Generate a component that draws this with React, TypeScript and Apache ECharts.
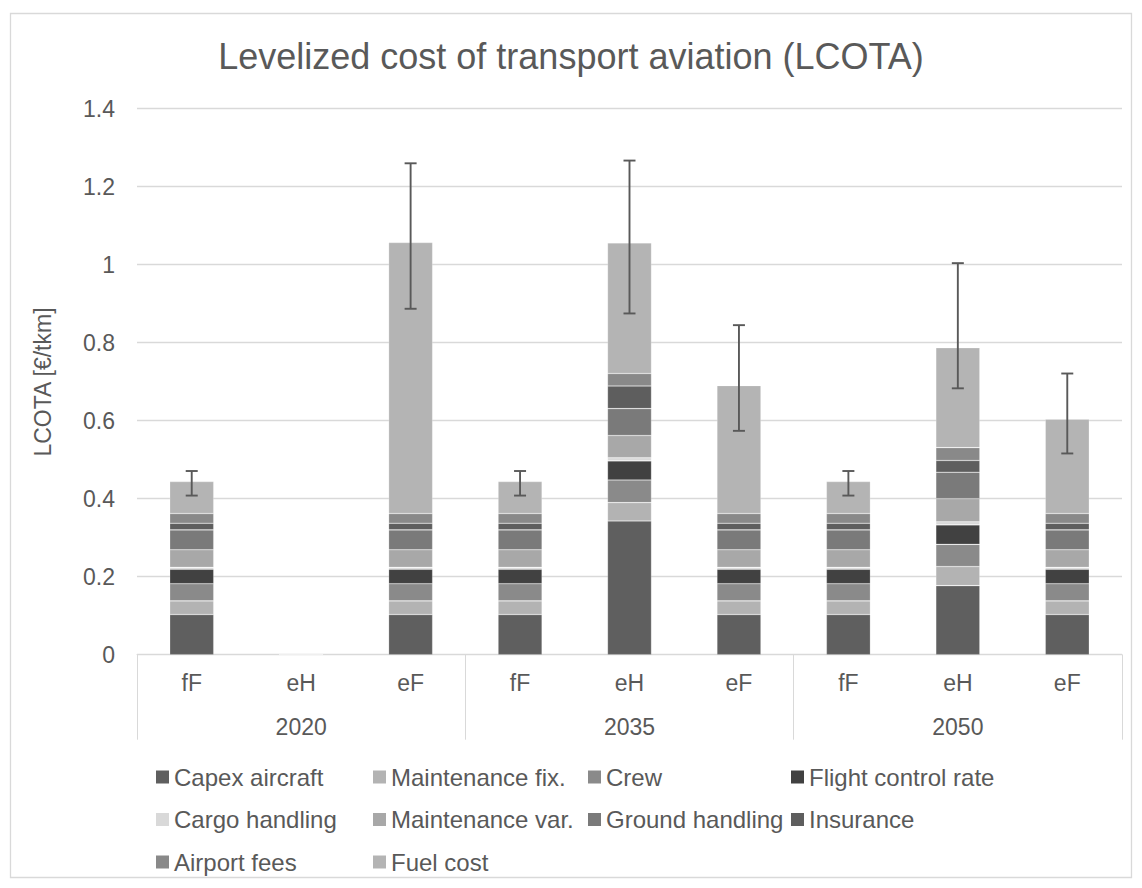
import React, { useEffect, useRef } from "react";
import * as echarts from "echarts";

// Technology per bar (fossil fuel, electric hydrogen, e-fuel) and the year groups
const categories = ["fF", "eH", "eF", "fF", "eH", "eF", "fF", "eH", "eF"];
const years = ["2020", "2035", "2050"];

// Cost components in €/tkm, one value per bar (stacked bottom to top)
const capexAircraft = [0.103, 0, 0.103, 0.103, 0.343, 0.103, 0.103, 0.177, 0.103];
const maintenanceFix = [0.035, 0, 0.035, 0.035, 0.047, 0.035, 0.035, 0.049, 0.035];
const crew = [0.044, 0, 0.044, 0.044, 0.058, 0.044, 0.044, 0.057, 0.044];
const flightControlRate = [0.037, 0, 0.037, 0.037, 0.049, 0.037, 0.037, 0.05, 0.037];
const cargoHandling = [0.005, 0, 0.005, 0.005, 0.008, 0.005, 0.005, 0.008, 0.005];
const maintenanceVar = [0.045, 0, 0.045, 0.045, 0.057, 0.045, 0.045, 0.059, 0.045];
const groundHandling = [0.051, 0, 0.051, 0.051, 0.069, 0.051, 0.051, 0.068, 0.051];
const insurance = [0.017, 0, 0.017, 0.017, 0.058, 0.017, 0.017, 0.03, 0.017];
const airportFees = [0.025, 0, 0.025, 0.025, 0.032, 0.025, 0.025, 0.033, 0.025];
const fuelCost = [0.082, 0.002, 0.695, 0.082, 0.335, 0.328, 0.082, 0.256, 0.242];

// Uncertainty range of the total cost
const errorLow = [0.408, null, 0.887, 0.408, 0.875, 0.574, 0.408, 0.683, 0.516];
const errorHigh = [0.471, null, 1.26, 0.471, 1.267, 0.845, 0.471, 1.004, 0.721];

const yTicks = { min: 0, max: 1.4, interval: 0.2 };

const FONT = "'Liberation Sans', Arial, sans-serif";
const TEXT = "#595959";
const GRID = "#d9d9d9";

const components = [
  { name: "Capex aircraft", data: capexAircraft, color: "#5f5f5f" },
  { name: "Maintenance fix.", data: maintenanceFix, color: "#b3b3b3" },
  { name: "Crew", data: crew, color: "#8a8a8a" },
  { name: "Flight control rate", data: flightControlRate, color: "#414141" },
  { name: "Cargo handling", data: cargoHandling, color: "#d9d9d9" },
  { name: "Maintenance var.", data: maintenanceVar, color: "#a8a8a8" },
  { name: "Ground handling", data: groundHandling, color: "#7a7a7a" },
  { name: "Insurance", data: insurance, color: "#5e5e5e" },
  { name: "Airport fees", data: airportFees, color: "#898989" },
  { name: "Fuel cost", data: fuelCost, color: "#b4b4b4" },
];

// Legend columns, laid out as a grid
const legendColumns = [
  { left: 156, names: ["Capex aircraft", "Cargo handling", "Airport fees"] },
  { left: 373, names: ["Maintenance fix.", "Maintenance var.", "Fuel cost"] },
  { left: 588, names: ["Crew", "Ground handling"] },
  { left: 791, names: ["Flight control rate", "Insurance"] },
];

export default function App() {
  const ref = useRef<HTMLDivElement>(null);

  useEffect(() => {
    if (!ref.current) return;
    const chart = echarts.init(ref.current, undefined, { renderer: "svg" });

    const errorData = categories
      .map((_, i) => [i, errorLow[i], errorHigh[i]])
      .filter((d) => d[1] !== null && d[2] !== null);

    const barSeries = components.map((c) => ({
      name: c.name,
      type: "bar",
      stack: "total",
      barWidth: 44,
      data: c.data,
      itemStyle: { color: c.color, borderColor: "rgba(255,255,255,0.35)", borderWidth: 0.6 },
      emphasis: { disabled: true },
    }));

    chart.setOption({
      animation: false,
      textStyle: { fontFamily: FONT },
      title: {
        text: "Levelized cost of transport aviation (LCOTA)",
        left: "center",
        top: 38,
        padding: 0,
        textStyle: { fontFamily: FONT, fontSize: 36, fontWeight: "normal", color: TEXT },
      },
      legend: legendColumns.map((col) => ({
        orient: "vertical",
        left: col.left,
        top: 765,
        padding: 0,
        itemGap: 18.5,
        itemWidth: 13,
        itemHeight: 13,
        icon: "rect",
        selectedMode: false,
        data: col.names,
        itemStyle: { borderWidth: 0 },
        textStyle: { fontFamily: FONT, fontSize: 24, color: TEXT, lineHeight: 24 },
      })),
      grid: { left: 137, right: 20, top: 108.7, bottom: 233.3, containLabel: false },
      xAxis: [
        {
          type: "category",
          data: categories,
          position: "bottom",
          axisLine: { show: true, lineStyle: { color: GRID, width: 1 } },
          axisTick: { show: false },
          axisLabel: { margin: 17, fontFamily: FONT, fontSize: 23, color: TEXT },
        },
        {
          type: "category",
          data: years,
          position: "bottom",
          offset: 0,
          axisLine: { show: false },
          axisTick: { show: true, length: 85, interval: 0, lineStyle: { color: GRID, width: 1 } },
          axisLabel: { margin: 61, fontFamily: FONT, fontSize: 23, color: TEXT },
          splitLine: { show: false },
        },
      ],
      yAxis: {
        type: "value",
        min: yTicks.min,
        max: yTicks.max,
        interval: yTicks.interval,
        axisLine: { show: false },
        axisTick: { show: false },
        axisLabel: { margin: 22, fontFamily: FONT, fontSize: 23, color: TEXT },
        splitLine: { lineStyle: { color: GRID, width: 1.3 } },
      },
      graphic: [
        {
          type: "rect",
          shape: { x: 10.5, y: 13.5, width: 1121, height: 864 },
          style: { fill: "none", stroke: GRID, lineWidth: 1.3 },
          silent: true,
          z: -1,
        },
        {
          type: "text",
          x: 43,
          y: 382,
          rotation: Math.PI / 2,
          style: {
            text: "LCOTA [€/tkm]",
            fontFamily: FONT,
            fontSize: 23,
            fill: TEXT,
            textAlign: "center",
            textVerticalAlign: "middle",
          },
          silent: true,
        },
      ],
      series: [
        ...barSeries,
        {
          name: "range",
          type: "custom",
          xAxisIndex: 0,
          yAxisIndex: 0,
          z: 10,
          data: errorData,
          encode: { x: 0, y: [1, 2] },
          renderItem: (_params: any, api: any) => {
            const idx = api.value(0);
            const lo = api.coord([idx, api.value(1)]);
            const hi = api.coord([idx, api.value(2)]);
            const cap = 6;
            const style = { stroke: TEXT, lineWidth: 1.9 };
            return {
              type: "group",
              children: [
                { type: "line", shape: { x1: lo[0], y1: lo[1], x2: hi[0], y2: hi[1] }, style },
                { type: "line", shape: { x1: hi[0] - cap, y1: hi[1], x2: hi[0] + cap, y2: hi[1] }, style },
                { type: "line", shape: { x1: lo[0] - cap, y1: lo[1], x2: lo[0] + cap, y2: lo[1] }, style },
              ],
            };
          },
        },
      ],
    });

    return () => chart.dispose();
  }, []);

  return (
    <div
      ref={ref}
      style={{ position: "absolute", left: 0, top: 0, width: 1142, height: 888, background: "#ffffff" }}
    />
  );
}
